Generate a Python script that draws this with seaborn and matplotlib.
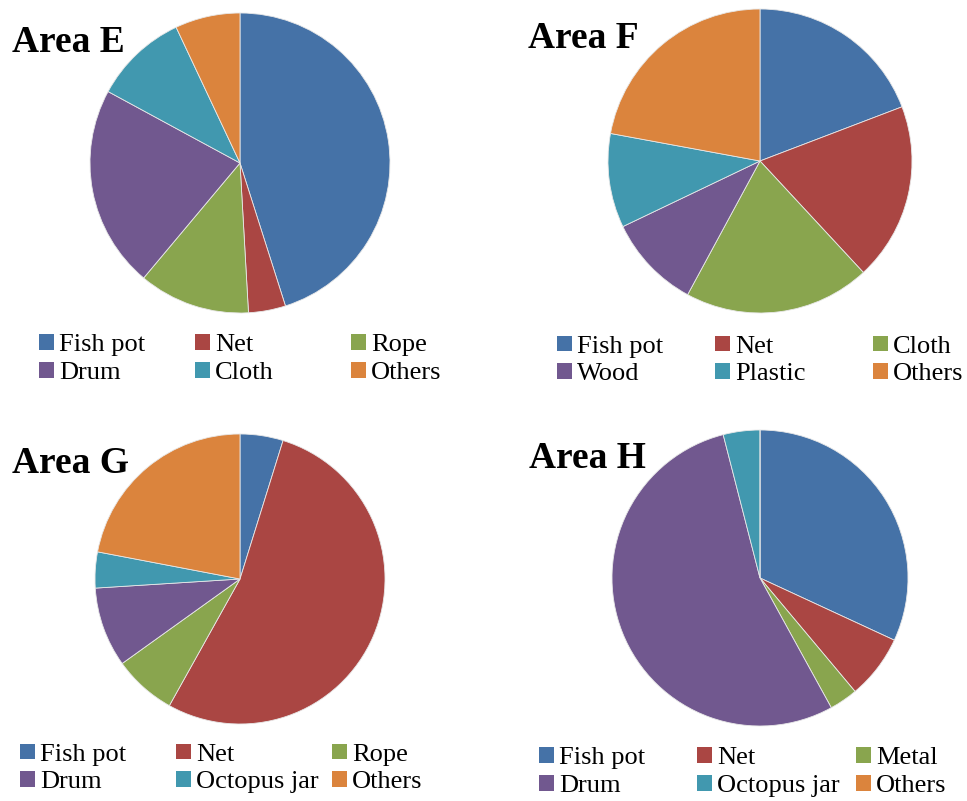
import matplotlib
matplotlib.use("Agg")
import matplotlib.pyplot as plt
import seaborn as sns
from matplotlib.patches import Patch

# dati (percentuali)
labels_e = ["Fish pot", "Net", "Rope", "Drum", "Cloth", "Others"]
values_e = [45.1, 4.0, 12.0, 21.8, 10.1, 7.0]

labels_f = ["Fish pot", "Net", "Cloth", "Wood", "Plastic", "Others"]
values_f = [19.2, 18.9, 19.8, 10.0, 10.0, 22.1]

labels_g = ["Fish pot", "Net", "Rope", "Drum", "Octopus jar", "Others"]
values_g = [4.8, 53.3, 7.0, 8.9, 4.0, 22.0]

labels_h = ["Fish pot", "Net", "Metal", "Drum", "Octopus jar", "Others"]
values_h = [31.9, 7.0, 3.1, 54.0, 4.0, 0.0]

titles = ["Area E", "Area F", "Area G", "Area H"]

colori = ["#4572A7", "#AA4643", "#89A54E", "#71588F", "#4198AF", "#DB843D"]

sns.set_theme(style="white")
plt.rcParams["font.family"] = ["Liberation Serif", "DejaVu Serif"]

W, H = 967, 801
fig = plt.figure(figsize=(W / 100, H / 100), dpi=100)

# posizioni in pixel: centro torta, raggio, titolo, colonne legenda, righe legenda
pannelli = [
    dict(lab=labels_e, val=values_e, cx=240, cy=163, r=150, tx=12, ty=52,
         cols=[39, 195, 351], rows=[345, 373]),
    dict(lab=labels_f, val=values_f, cx=760, cy=161, r=152, tx=528, ty=48,
         cols=[557, 715, 873], rows=[347, 374]),
    dict(lab=labels_g, val=values_g, cx=240, cy=579, r=145, tx=12, ty=473,
         cols=[20, 176, 332], rows=[755, 782]),
    dict(lab=labels_h, val=values_h, cx=760, cy=578, r=148, tx=529, ty=468,
         cols=[539, 697, 856], rows=[758, 786]),
]

for p, titolo in zip(pannelli, titles):
    r = p["r"]
    ax = fig.add_axes([(p["cx"] - r) / W, (H - p["cy"] - r) / H, 2 * r / W, 2 * r / H])
    ax.pie(p["val"], colors=colori, startangle=90, counterclock=False,
           wedgeprops=dict(edgecolor="#e8e8e8", linewidth=0.6))
    ax.set_xlim(-1, 1)
    ax.set_ylim(-1, 1)
    ax.set_aspect("equal")
    ax.axis("off")

    fig.text(p["tx"] / W, 1 - p["ty"] / H, titolo, fontsize=27, fontweight="bold",
             color="black", ha="left", va="baseline")

    # una legenda per colonna, due voci ciascuna (ordine per righe come Excel)
    ymid = 1 - (p["rows"][0] + p["rows"][1]) / 2 / H
    for c in range(3):
        idx = [c, c + 3]
        handles = [Patch(facecolor=colori[i], edgecolor="none") for i in idx]
        leg = fig.legend(handles, [p["lab"][i] for i in idx], loc="center left",
                         bbox_to_anchor=(p["cols"][c] / W, ymid), frameon=False,
                         fontsize=19, handlelength=0.55, handleheight=0.55,
                         handletextpad=0.2, labelspacing=0.2, borderpad=0,
                         borderaxespad=0)
        for t in leg.get_texts():
            t.set_color("black")

fig.savefig("out.png", dpi=100)
